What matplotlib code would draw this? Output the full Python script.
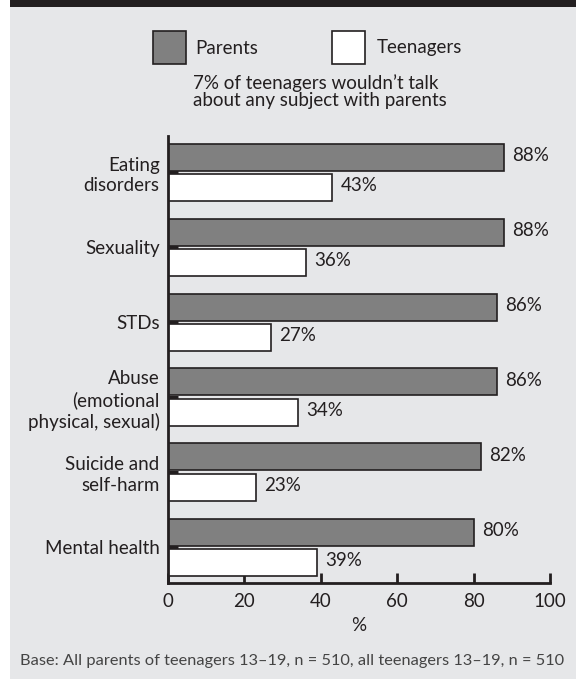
import matplotlib
matplotlib.use("Agg")
import matplotlib.pyplot as plt
from matplotlib.patches import Rectangle

categories = ["Eating\ndisorders", "Sexuality", "STDs",
              "Abuse\n(emotional\nphysical, sexual)", "Suicide and\nself-harm", "Mental health"]
parents = [88, 88, 86, 86, 82, 80]
teenagers = [43, 36, 27, 34, 23, 39]
xticks = [0, 20, 40, 60, 80, 100]
series_names = ["Parents", "Teenagers"]
note = "7% of teenagers wouldn\u2019t talk\nabout any subject with parents"
footnote = "Base: All parents of teenagers 13\u201319, n = 510, all teenagers 13\u201319, n = 510"

BG = "#e6e7e9"
DARK = "#808080"
TXT = "#231f20"
FS = 13.5
plt.rcParams['font.family'] = ['Lato', 'DejaVu Sans']

W, H = 576, 679
fig = plt.figure(figsize=(W / 100, H / 100), dpi=100)
fig.patch.set_facecolor("white")
# background panel and header
fig.add_artist(Rectangle((10 / W, 0), 1 - 10 / W, 1, transform=fig.transFigure,
                         facecolor=BG, edgecolor="none", zorder=0))
fig.add_artist(Rectangle((10 / W, 1 - 7 / H), 1 - 10 / W, 7 / H, transform=fig.transFigure,
                         facecolor=TXT, edgecolor="none", zorder=1))

ax = fig.add_axes([168 / W, 1 - 583 / H, (550 - 168) / W, (583 - 136) / H])
ax.set_facecolor("none")

n = len(categories)
ys = list(range(n))
h = 0.36
off = 0.2
ax.barh([y - off for y in ys], parents, height=h, color=DARK, edgecolor=TXT, linewidth=1.2, zorder=3)
ax.barh([y + off for y in ys], teenagers, height=h, color="white", edgecolor=TXT, linewidth=1.2, zorder=3)

for y, v in zip(ys, parents):
    ax.annotate(f"{v}%", (v, y - off), xytext=(6, 1), textcoords="offset points",
                va="center", ha="left", fontsize=FS, color=TXT)
for y, v in zip(ys, teenagers):
    ax.annotate(f"{v}%", (v, y + off), xytext=(6, 1), textcoords="offset points",
                va="center", ha="left", fontsize=FS, color=TXT)

ax.set_xlim(0, 100)
ax.set_ylim(n - 1 + 0.48, -0.48)
ax.set_yticks(ys)
ax.set_yticklabels(categories, fontsize=FS, color=TXT, linespacing=1.25)
ax.set_xticks(xticks)
ax.set_xticklabels([str(t) for t in xticks], fontsize=FS, color=TXT)
ax.tick_params(axis="y", direction="in", length=7, width=2.2, color=TXT, pad=6)
ax.tick_params(axis="x", direction="in", length=7, width=2, color=TXT, pad=7)
for s in ["top", "right"]:
    ax.spines[s].set_visible(False)
for s in ["left", "bottom"]:
    ax.spines[s].set_linewidth(2)
    ax.spines[s].set_color(TXT)
    ax.spines[s].set_zorder(5)
ax.set_xlabel("%", fontsize=FS, color=TXT, labelpad=5)

# legend
fig.add_artist(Rectangle((153 / W, 1 - 64 / H), 33 / W, 33 / H, transform=fig.transFigure,
                         facecolor=DARK, edgecolor=TXT, linewidth=1.2))
fig.text(195 / W, 1 - 48 / H, series_names[0], fontsize=FS, color=TXT, va="center", ha="left")
fig.add_artist(Rectangle((332 / W, 1 - 64 / H), 33 / W, 33 / H, transform=fig.transFigure,
                         facecolor="white", edgecolor=TXT, linewidth=1.2))
fig.text(377 / W, 1 - 48 / H, series_names[1], fontsize=FS, color=TXT, va="center", ha="left")
fig.text(193 / W, 1 - 92 / H, note, fontsize=FS, color=TXT, va="center", ha="left", linespacing=1.0)

fig.text(20 / W, 1 - 661 / H, footnote, fontsize=11.8, color="#444444", va="center", ha="left")

fig.savefig("out.png", dpi=100, facecolor=fig.get_facecolor())
